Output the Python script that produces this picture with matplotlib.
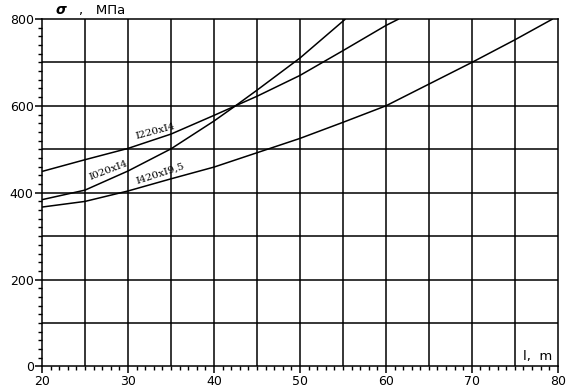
import matplotlib
matplotlib.use("Agg")
import matplotlib.pyplot as plt
from matplotlib.ticker import MultipleLocator

# values (l in m, sigma in MPa)
l_1020 = [20, 25, 30, 35, 40, 42.5, 45, 50, 55.3]
s_1020 = [384, 406, 450, 501, 565, 600, 636, 710, 800]

l_1220 = [20, 25, 30, 35, 40, 42.5, 45, 50, 55, 60, 61.5]
s_1220 = [449, 476, 502, 535, 578, 600, 622, 670, 727, 785, 800]

l_1420 = [20, 25, 30, 35, 40, 45, 50, 55, 60, 65, 70, 75, 79.4]
s_1420 = [367, 380, 404, 432, 459, 492, 525, 562, 600, 650, 700, 752, 800]

x_ticks = [20, 30, 40, 50, 60, 70, 80]
y_ticks = [0, 200, 400, 600, 800]

fig = plt.figure(figsize=(5.7, 3.87), dpi=100)
ax = fig.add_axes([0.0737, 0.053, 0.905, 0.898])

for xs, ys in ((l_1020, s_1020), (l_1220, s_1220), (l_1420, s_1420)):
    ax.plot(xs, ys, color="black", lw=1.1, solid_capstyle="butt", zorder=3)

ax.set_xlim(20, 80)
ax.set_ylim(0, 800)
ax.set_xticks(x_ticks)
ax.set_yticks(y_ticks)
ax.xaxis.set_minor_locator(MultipleLocator(1))
ax.yaxis.set_minor_locator(MultipleLocator(20))

# grid every 5 m and every 100 MPa
for gx in range(25, 80, 5):
    ax.axvline(gx, color="black", lw=1.1, zorder=1)
for gy in range(100, 800, 100):
    ax.axhline(gy, color="black", lw=1.1, zorder=1)

for side in ax.spines.values():
    side.set_linewidth(1.1)

ax.tick_params(which="major", direction="out", length=5, width=1.1,
               labelsize=9, pad=1)
ax.tick_params(which="minor", direction="out", length=3, width=1.0)

serif = dict(family="DejaVu Serif", fontsize=7.5, color="black",
             ha="center", va="center", rotation_mode="anchor")
ax.text(33.2, 541, "I220xI4", rotation=15, **serif)
ax.text(27.7, 451, "I020xI4", rotation=21, **serif)
ax.text(33.8, 443, "I420xI9,5", rotation=18, **serif)

fig.text(0.098, 0.974, "σ", fontsize=10, fontweight="bold", style="italic",
         ha="left", va="center")
fig.text(0.138, 0.974, ",   МПа", fontsize=9.5, ha="left", va="center")
ax.text(75.9, 8, "l,  m", fontsize=9.5, ha="left", va="bottom")

fig.savefig("out.png", dpi=100)
